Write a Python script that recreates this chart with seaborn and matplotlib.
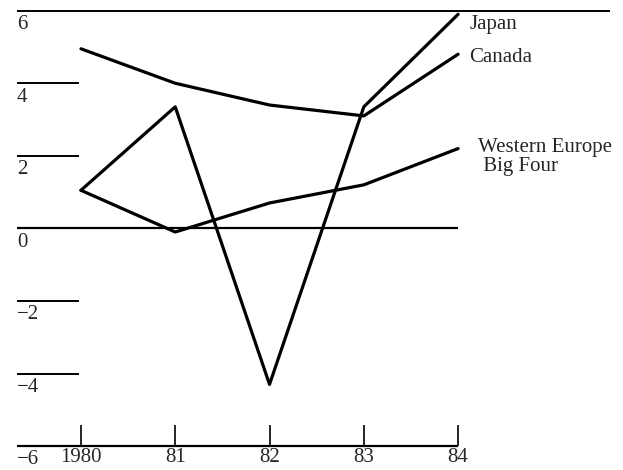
import numpy as np
import pandas as pd
import seaborn as sns
import matplotlib.pyplot as plt

# valores
years = [1980, 1981, 1982, 1983, 1984]
year_labels = ['1980', '81', '82', '83', '84']
japan = [1.05, 3.35, -4.3, 3.35, 5.9]
canada = [4.95, 4.0, 3.4, 3.1, 4.8]
western_europe = [1.05, -0.1, 0.7, 1.2, 2.2]
y_ticks = [6, 4, 2, 0, -2, -4, -6]
series_names = ['Japan', 'Canada', 'Western Europe\n Big Four']

df = pd.DataFrame({
    'ano': years * 3,
    'valor': japan + canada + western_europe,
    'serie': [series_names[0]] * 5 + [series_names[1]] * 5 + [series_names[2]] * 5,
})

sns.set_style('white')
plt.rcParams['font.family'] = ['Liberation Serif', 'DejaVu Serif']

fig = plt.figure(figsize=(6.23, 4.70), dpi=100)
ax = fig.add_axes([0.027, 0.047, 0.952, 0.938])

sns.lineplot(data=df, x='ano', y='valor', hue='serie', palette=['black'] * 3,
             linewidth=2.3, legend=False, ax=ax, sort=False)

x_left, x_right = years[0] - 0.68, years[-1] + 1.61
ax.set_xlim(x_left, x_right)
ax.set_ylim(-6.05, 6.1)
ax.axis('off')

# linhas horizontais de referência
for t in y_ticks:
    if t == 6:
        ax.hlines(t, x_left, x_right, color='black', linewidth=1.4)
    elif t in (0, -6):
        ax.hlines(t, x_left, years[-1], color='black', linewidth=1.6)
    else:
        ax.hlines(t, x_left, years[0] - 0.02, color='black', linewidth=1.4)
    lab = str(t).replace('-', '\u2212')
    ax.text(x_left, t - 0.12, lab, ha='left', va='top', fontsize=15)

# marcas do eixo x
for yr, lab in zip(years, year_labels):
    ax.vlines(yr, -6, -5.43, color='black', linewidth=1.2)
    ax.text(yr, -6.05, lab, ha='center', va='top', fontsize=15)

# rótulos das séries
ax.text(years[-1] + 0.12, 5.88, 'Japan', ha='left', va='top', fontsize=15)
ax.text(years[-1] + 0.12, canada[-1] - 0.08, 'Canada', ha='left', va='center', fontsize=15)
ax.text(years[-1] + 0.21, western_europe[-1] + 0.3, 'Western Europe\n Big Four',
        ha='left', va='top', fontsize=15, linespacing=1.0)

plt.savefig('out.png', dpi=100)
